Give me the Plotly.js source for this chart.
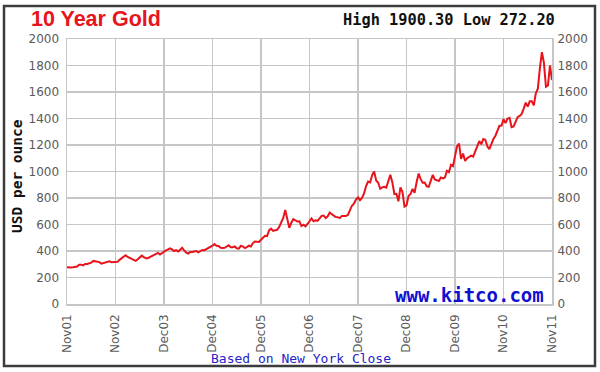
<!DOCTYPE html>
<html>
<head>
<meta charset="utf-8">
<script src="https://cdn.plot.ly/plotly-3.0.1.min.js"></script>
<style>
  html, body { margin: 0; padding: 0; background: #fff; }
  #chart { width: 600px; height: 372px; }
</style>
</head>
<body>
<div id="chart"></div>
<script>
// Semi-monthly gold price (USD/oz), Nov 2001 -> Nov 2011
const prices = [
  278, 274, 275, 277,                       // Nov-Dec 2001
  281, 283, 296, 297, 292, 302, 302, 307, 312, 325, 322, 316,
  316, 305, 310, 313, 320, 322, 316, 318, 320, 318, 333, 345,   // 2002
  356, 368, 355, 348, 336, 334, 326, 338, 355, 365, 354, 346,
  346, 355, 360, 374, 380, 386, 373, 386, 393, 405, 412, 420,   // 2003
  412, 400, 406, 396, 410, 425, 404, 388, 381, 393, 392, 395,
  400, 390, 402, 408, 406, 415, 420, 427, 440, 452, 440, 438,   // 2004
  424, 422, 424, 434, 443, 428, 428, 434, 420, 418, 438, 435,
  422, 430, 440, 434, 460, 472, 472, 468, 485, 500, 515, 513,   // 2005
  555, 568, 552, 556, 560, 582, 612, 650, 710, 650, 575, 613,
  640, 632, 622, 624, 588, 598, 586, 604, 628, 646, 624, 632,   // 2006
  628, 650, 665, 668, 648, 662, 690, 678, 668, 656, 655, 648,
  665, 666, 664, 672, 712, 742, 758, 788, 805, 784, 800, 834,   // 2007
  890, 924, 918, 972, 1000, 932, 915, 870, 880, 885, 878, 928,
  975, 918, 830, 832, 775, 880, 845, 735, 745, 815, 830, 869,   // 2008
  840, 919, 985, 942, 915, 916, 888, 884, 930, 975, 940, 934,
  928, 955, 948, 955, 1005, 995, 1050, 1040, 1110, 1190, 1210, 1095, // 2009
  1135, 1080, 1100, 1110, 1120, 1113, 1150, 1180, 1230, 1205, 1245, 1240,
  1190, 1168, 1215, 1245, 1270, 1305, 1345, 1345, 1395, 1365, 1400, 1405, // 2010
  1335, 1340, 1370, 1410, 1420, 1435, 1475, 1520, 1490, 1530, 1530, 1500,
  1590, 1625, 1780, 1900, 1820, 1640, 1650, 1800,               // Jul-Oct 2011
  1690                                                          // Nov 2011
];
const tickVals = [0, 1, 2, 3, 4, 5, 6, 7, 8, 9, 10];
const tickLabels = ["Nov01", "Nov02", "Dec03", "Dec04", "Dec05", "Dec06",
                    "Dec07", "Dec08", "Dec09", "Nov10", "Nov11"];
const yTicks = [0, 200, 400, 600, 800, 1000, 1200, 1400, 1600, 1800, 2000];

const xs = prices.map((_, i) => i / 24);

const gridCol = "#c6c6c6";
const tickFont = { family: "DejaVu Sans, Verdana, sans-serif", size: 12, color: "#5a5a5a" };

const traces = [
  { x: xs, y: prices, type: "scatter", mode: "lines",
    line: { color: "#e8141c", width: 2 }, hoverinfo: "skip", showlegend: false },
  { x: [0], y: [0], yaxis: "y2", type: "scatter", mode: "markers",
    marker: { opacity: 0 }, hoverinfo: "skip", showlegend: false }
];

const layout = {
  width: 600, height: 372,
  margin: { l: 67, r: 48, t: 39, b: 68, pad: 0 },
  paper_bgcolor: "#fff", plot_bgcolor: "#fff",
  showlegend: false,
  xaxis: {
    range: [0, 10], tickvals: tickVals, ticktext: tickLabels,
    tickangle: -90, tickfont: tickFont, showgrid: true, gridcolor: gridCol, gridwidth: 1.5,
    showline: true, linecolor: gridCol, linewidth: 1.5, mirror: true,
    zeroline: false, ticks: "outside", ticklen: 4, tickcolor: "rgba(0,0,0,0)", fixedrange: true
  },
  yaxis: {
    range: [0, 2000], tickvals: yTicks, tickfont: tickFont,
    showgrid: true, gridcolor: gridCol, gridwidth: 1.5,
    showline: true, linecolor: gridCol, linewidth: 1.5, mirror: true,
    zeroline: false, ticks: "outside", ticklen: 4, tickcolor: "rgba(0,0,0,0)", fixedrange: true
  },
  yaxis2: {
    range: [0, 2000], tickvals: yTicks, tickfont: tickFont, overlaying: "y", side: "right",
    showgrid: false, zeroline: false, showline: false,
    ticks: "outside", ticklen: 2, tickcolor: "rgba(0,0,0,0)", fixedrange: true
  },
  shapes: [
    { type: "rect", xref: "paper", yref: "paper",
      x0: (4 - 67) / 485, x1: (595 - 67) / 485, y0: (304 - 366) / 265, y1: (304 - 6) / 265,
      line: { color: "#3c3c3c", width: 2.5 }, fillcolor: "rgba(0,0,0,0)", layer: "above" }
  ],
  annotations: [
    { text: "10 Year Gold", xref: "paper", yref: "paper",
      x: (30 - 67) / 485, y: (304 - 19) / 265, xanchor: "left", yanchor: "middle", borderpad: 0,
      showarrow: false, font: { family: "Liberation Sans, Arial, sans-serif", size: 21.5, color: "#e8141c", weight: "bold" } },
    { text: "<b>High 1900.30 Low 272.20</b>", xref: "paper", yref: "paper",
      x: (557 - 67) / 485, y: (304 - 20) / 265, xanchor: "right", yanchor: "middle",
      showarrow: false, font: { family: "DejaVu Sans Mono, monospace", size: 15.3, color: "#111" } },
    { text: "<b>USD per ounce</b>", xref: "paper", yref: "paper", textangle: -90,
      x: (17 - 67) / 485, y: (304 - 176) / 265, xanchor: "center", yanchor: "middle",
      showarrow: false, font: { family: "DejaVu Sans Mono, monospace", size: 14.5, color: "#111" } },
    { text: "<b>www.kitco.com</b>", xref: "paper", yref: "paper",
      x: (546 - 67) / 485, y: (304 - 295) / 265, xanchor: "right", yanchor: "middle",
      showarrow: false, font: { family: "DejaVu Sans Mono, monospace", size: 19, color: "#1010d0" } },
    { text: "Based on New York Close", xref: "paper", yref: "paper",
      x: (209 - 67) / 485, y: (304 - 358) / 265, xanchor: "left", yanchor: "middle",
      showarrow: false, font: { family: "DejaVu Sans Mono, monospace", size: 13, color: "#2424c8" } }
  ]
};

Plotly.newPlot("chart", traces, layout, { displayModeBar: false, staticPlot: true });
</script>
</body>
</html>
